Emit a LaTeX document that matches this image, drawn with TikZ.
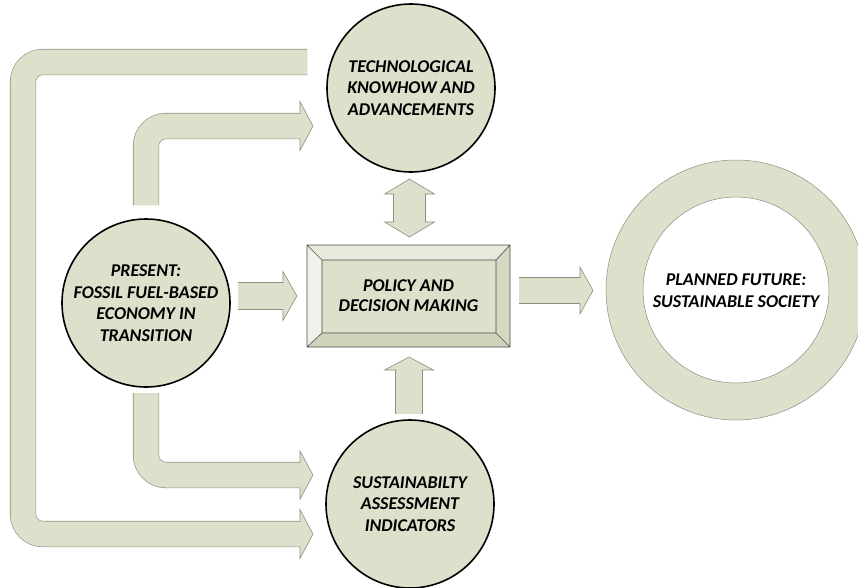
\documentclass[tikz,border=0pt]{standalone}
\usepackage{fontspec}
\setmainfont{Carlito}
\usepackage{xcolor}
\usetikzlibrary{calc}
\definecolor{olivefill}{RGB}{221,224,203}
\definecolor{oliveedge}{RGB}{140,142,128}
\definecolor{bevellight}{RGB}{240,241,232}
\definecolor{bevelmid}{RGB}{232,234,221}
\definecolor{beveldark}{RGB}{207,211,188}
\tikzset{
	blob/.style={circle, draw=black, line width=1.6pt, fill=olivefill, minimum size=168pt,
			align=center, inner sep=0pt, font=\bfseries\itshape\fontsize{18}{21.5}\selectfont},
	band/.style={draw=oliveedge, line width=0.6pt, double=olivefill, double distance=#1,
			rounded corners=20pt, line cap=butt},
	band/.default=25pt
}
\newcommand{\bandhead}[5]{%
	\fill[olivefill, shift={(#1)}, rotate=#2] (0,-#4) -- (#5,0) -- (0,#4) -- cycle;
	\draw[oliveedge, line width=0.6pt, shift={(#1)}, rotate=#2] (0,#3) -- (0,#4) -- (#5,0) -- (0,-#4) -- (0,-#3);
}

\begin{document}
\begin{tikzpicture}[x=1pt, y=-1pt]
        \useasboundingbox (0,0) rectangle (858,587);
        \node[blob] (tech) at (411, 88) {TECHNOLOGICAL\\KNOWHOW AND\\ADVANCEMENTS};
        \node[blob] (present) at (146, 303) {PRESENT:\\FOSSIL FUEL-BASED\\ECONOMY IN\\TRANSITION};
        \node[blob] (indic) at (410, 504) {SUSTAINABILTY\\ASSESSMENT\\INDICATORS};

        \fill[olivefill, draw=oliveedge, line width=0.5pt, even odd rule] (736, 290) circle (130) (736, 290) circle (93);
        \node[align=center, font=\bfseries\itshape\fontsize{18}{22}\selectfont] (future) at (736, 291) {PLANNED FUTURE:\\SUSTAINABLE SOCIETY};

        \coordinate (pa) at (307, 245);
        \coordinate (pb) at (510, 347);
        \coordinate (qa) at (322, 260);
        \coordinate (qb) at (496, 333);
        \fill[bevelmid] (pa) -- (pa -| pb) -- (qa -| qb) -- (qa) -- cycle;
        \fill[bevellight] (pa) -- (qa) -- (qa |- qb) -- (pa |- pb) -- cycle;
        \fill[beveldark] (pa |- pb) -- (qa |- qb) -- (qb) -- (pb) -- cycle;
        \fill[beveldark!60!olivefill] (pa -| pb) -- (pb) -- (qb) -- (qa -| qb) -- cycle;
        \fill[olivefill] (qa) rectangle (qb);
        \draw[black!70, line width=0.6pt] (pa) rectangle (pb) (qa) rectangle (qb)
            (pa) -- (qa) (pa -| pb) -- (qa -| qb) (pa |- pb) -- (qa |- qb) (pb) -- (qb);
        \node[align=center, font=\bfseries\itshape\fontsize{18}{20}\selectfont] (policy) at ($(pa)!0.5!(pb)$) {POLICY AND\\DECISION MAKING};

        \coordinate (outstart) at (307, 62);
        \coordinate (outend) at (300, 534);
        \draw[band] (outstart) -- (23, 62) -- (23, 534) -- (outend);
        \bandhead{outend}{0}{12.5}{24.5}{13}

        \coordinate (upstart) at (146, 205);
        \coordinate (upend) at (300, 126);
        \draw[band] (upstart) -- (upstart |- upend) -- (upend);
        \bandhead{upend}{0}{12.5}{24.5}{13}

        \coordinate (downstart) at (146, 393);
        \coordinate (downend) at (300, 475);
        \draw[band] (downstart) -- (downstart |- downend) -- (downend);
        \bandhead{downend}{0}{12.5}{24}{13}

        \coordinate (ltail) at (238, 296);
        \coordinate (lhead) at (283, 296);
        \draw[band=26pt] (ltail) -- (lhead);
        \bandhead{lhead}{0}{13}{24.5}{14}

        \coordinate (rtail) at (519, 290.5);
        \coordinate (rhead) at (580, 290.5);
        \draw[band] (rtail) -- (rhead);
        \bandhead{rhead}{0}{12.5}{23.5}{13}

        \coordinate (btail) at (409, 414);
        \coordinate (bhead) at (409, 370);
        \draw[band=26pt] (btail) -- (bhead);
        \bandhead{bhead}{90}{13}{24.5}{13}

        \coordinate (dtop) at (409.5, 194);
        \coordinate (dbot) at (409.5, 222);
        \draw[band=31pt] (dtop) -- (dbot);
        \bandhead{dtop}{90}{15.5}{25}{15}
        \bandhead{dbot}{-90}{15.5}{25}{15}
    \end{tikzpicture}
\end{document}
